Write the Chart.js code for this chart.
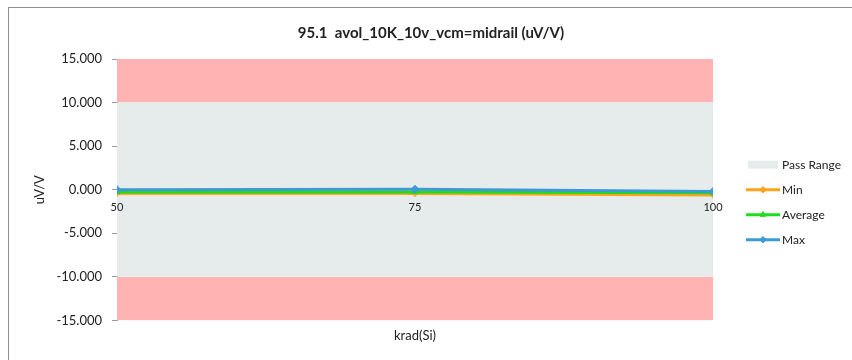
<!DOCTYPE html>
<html>
<head>
<meta charset="utf-8">
<script src="https://cdn.jsdelivr.net/npm/chart.js@4.4.1/dist/chart.umd.min.js"></script>
<style>
  html, body { margin: 0; padding: 0; background: #fff; }
  #wrap { position: relative; width: 852px; height: 360px; overflow: hidden; }
  #frame { position: absolute; left: 8px; top: 7px; width: 900px; height: 400px;
           border-top: 1px solid #8f8f8f; border-left: 1px solid #8f8f8f; }
  canvas { position: absolute; left: 0; top: 0; }
</style>
</head>
<body>
<div id="wrap">
  <div id="frame"></div>
  <canvas id="c" width="852" height="360"></canvas>
</div>
<script>
// ---- data ----
const chartTitle = '95.1  avol_10K_10v_vcm=midrail (uV/V)';
const kradLevels = [50, 75, 100];
const minValues = [-0.45, -0.45, -0.6];
const avgValues = [-0.25, -0.25, -0.35];
const maxValues = [0.0, 0.05, -0.2];
const passLimits = [-10, 10];
const axisLimits = [-15, 15];
const yStep = 5;
const xStep = 25;

const FONT = 'Lato, "Open Sans", sans-serif';

function pts(vals) { return kradLevels.map((x, i) => ({ x: x, y: vals[i] })); }
function band(v) { return [{ x: kradLevels[0], y: v }, { x: kradLevels[kradLevels.length - 1], y: v }]; }

const colors = { min: '#FFA31A', avg: '#1EDC1E', max: '#3C9BD5', pass: '#E6EBEB', fail: '#FFB3B3' };

const datasets = [
  { label: 'Max', data: pts(maxValues), borderColor: colors.max, backgroundColor: colors.max,
    borderWidth: 3, pointStyle: 'rectRot', pointRadius: 4, pointBorderWidth: 1, order: 0, fill: false },
  { label: 'Average', data: pts(avgValues), borderColor: colors.avg, backgroundColor: colors.avg,
    borderWidth: 3, pointStyle: 'triangle', pointRadius: 3.5, pointBorderWidth: 1, order: 1, fill: false },
  { label: 'Min', data: pts(minValues), borderColor: colors.min, backgroundColor: colors.min,
    borderWidth: 3, pointStyle: 'rectRot', pointRadius: 3, pointBorderWidth: 1, order: 2, fill: false },
  { label: 'Pass Range', data: band(passLimits[1]), borderWidth: 0, pointRadius: 0,
    backgroundColor: colors.pass, fill: { value: passLimits[0] }, order: 5 },
  { label: 'FailHigh', data: band(axisLimits[1]), borderWidth: 0, pointRadius: 0,
    backgroundColor: colors.fail, fill: { value: passLimits[1] }, order: 5 },
  { label: 'FailLow', data: band(passLimits[0]), borderWidth: 0, pointRadius: 0,
    backgroundColor: colors.fail, fill: { value: axisLimits[0] }, order: 5 }
];

const titlePlugin = {
  id: 'xlTitle',
  afterDraw(chart) {
    const ctx = chart.ctx;
    ctx.save();
    ctx.font = 'bold 15px ' + FONT;
    ctx.fillStyle = '#222';
    ctx.textAlign = 'center';
    ctx.textBaseline = 'alphabetic';
    ctx.fillText(chartTitle, 431, 37.5);
    ctx.restore();
  }
};

const legendPlugin = {
  id: 'xlLegend',
  afterDraw(chart) {
    const ctx = chart.ctx;
    const ca = chart.chartArea;
    const x0 = ca.right + 33;
    const cy = (ca.top + ca.bottom) / 2;
    const items = [
      { label: 'Pass Range', type: 'box', color: colors.pass },
      { label: 'Min', ds: 2 },
      { label: 'Average', ds: 1 },
      { label: 'Max', ds: 0 }
    ];
    ctx.save();
    ctx.font = '12px ' + FONT;
    ctx.textBaseline = 'middle';
    items.forEach((it, i) => {
      const y = cy - 25 + i * 25;
      if (it.type === 'box') {
        ctx.fillStyle = it.color;
        ctx.fillRect(x0 + 2, y - 4, 30, 8);
      } else {
        const d = chart.data.datasets[it.ds];
        ctx.strokeStyle = d.borderColor;
        ctx.lineWidth = 3;
        ctx.beginPath();
        ctx.moveTo(x0, y);
        ctx.lineTo(x0 + 34, y);
        ctx.stroke();
        ctx.fillStyle = d.backgroundColor;
        ctx.lineWidth = 1;
        Chart.helpers.drawPoint(ctx, { pointStyle: d.pointStyle, radius: 3.2, borderWidth: 1, rotation: 0 }, x0 + 17, y);
      }
      ctx.fillStyle = '#222';
      ctx.fillText(it.label, x0 + 36, y);
    });
    ctx.restore();
  }
};

new Chart(document.getElementById('c'), {
  type: 'line',
  data: { datasets: datasets },
  plugins: [titlePlugin, legendPlugin],
  options: {
    responsive: false,
    animation: false,
    events: [],
    layout: { padding: { left: 28, right: 139, top: 59, bottom: 14 } },
    plugins: {
      legend: { display: false },
      tooltip: { enabled: false },
      title: { display: false }
    },
    scales: {
      x: {
        type: 'linear', position: { y: 0 }, min: kradLevels[0], max: kradLevels[kradLevels.length - 1],
        grid: { display: false, drawTicks: false, z: 1 },
        border: { display: false, z: 1 },
        ticks: { z: 1, stepSize: xStep, color: '#222', font: { family: FONT, size: 11 }, padding: 11, maxRotation: 0 }
      },
      x2: {
        type: 'linear', position: 'bottom', min: kradLevels[0], max: kradLevels[kradLevels.length - 1],
        grid: { display: false, drawTicks: false }, border: { display: false },
        ticks: { display: false },
        title: { display: true, text: 'krad(Si)', color: '#222', font: { family: FONT, size: 13 }, padding: { top: 8, bottom: 2 } }
      },
      y: {
        type: 'linear', min: axisLimits[0], max: axisLimits[1],
        afterFit(scale) { scale.width = 89; },
        grid: { drawOnChartArea: false, drawTicks: true, tickLength: 5, color: '#9a9a9a' },
        border: { display: true, color: '#9a9a9a' },
        ticks: { stepSize: yStep, color: '#222', font: { family: FONT, size: 13 }, padding: 10,
                 callback: v => v.toFixed(3) },
        title: { display: true, text: 'uV/V', color: '#222', font: { family: FONT, size: 13 }, padding: { top: 4, bottom: 4 } }
      }
    }
  }
});
</script>
</body>
</html>
